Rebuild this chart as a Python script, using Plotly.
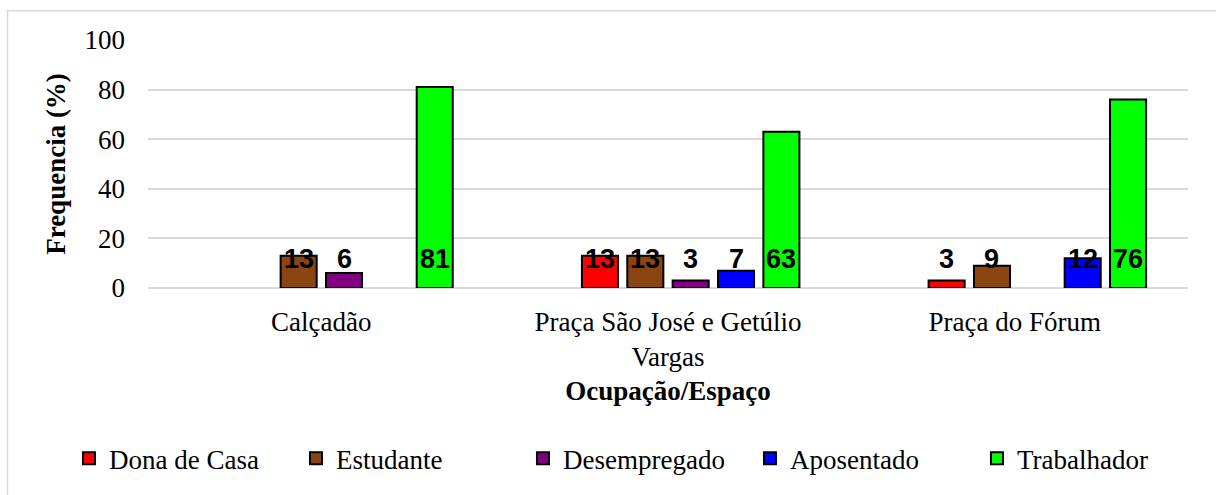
import plotly.graph_objects as go

# Survey of occupation by public space (percentages)
categories = ["Calçadão", "Praça São José e Getúlio<br>Vargas", "Praça do Fórum"]

series_names = ["Dona de Casa", "Estudante", "Desempregado", "Aposentado", "Trabalhador"]
dona_de_casa = [None, 13, 3]
estudante = [13, 13, 9]
desempregado = [6, 3, None]
aposentado = [None, 7, 12]
trabalhador = [81, 63, 76]
# blank leading series in the workbook: keeps an empty slot in every group
blank_series = [0, 0, 0]

series_values = [dona_de_casa, estudante, desempregado, aposentado, trabalhador]
series_colors = ["#FF0000", "#8B4513", "#800080", "#0000FF", "#00FF00"]

y_ticks = [0, 20, 40, 60, 80, 100]
label_height = 12  # data labels sit at a common height near the base

W, H = 1216, 495
M_L, M_R, M_T, M_B = 148, 28, 40, 205
BARGAP, BARGROUPGAP = 0.215, 0.205

serif = "Liberation Serif, Times New Roman, serif"
sans = "Liberation Sans, Arial, sans-serif"

fig = go.Figure()

fig.add_trace(go.Bar(
    x=categories, y=blank_series, showlegend=False, hoverinfo="skip",
    marker=dict(color="rgba(0,0,0,0)", line=dict(width=0)),
))

for name, vals, col in zip(series_names, series_values, series_colors):
    fig.add_trace(go.Bar(
        x=categories, y=vals, name=name,
        marker=dict(color=col, line=dict(color="#000000", width=2)),
    ))

# value labels, shifted into each series' slot within the group
plot_w = W - M_L - M_R
cat_w = plot_w / len(categories)
n_slots = len(series_names) + 1
slot_w = cat_w * (1 - BARGAP) / n_slots
annotations = []
for k, vals in enumerate(series_values):
    slot = k + 1
    for cat, v in zip(categories, vals):
        if v is None:
            continue
        annotations.append(dict(
            x=cat, y=label_height, xref="x", yref="y",
            text=f"<b>{v}</b>", showarrow=False,
            xshift=(slot - (n_slots - 1) / 2) * slot_w,
            yshift=-1,
            yanchor="middle",
            font=dict(family=sans, size=27, color="#000000"),
        ))

fig.update_layout(
    width=W, height=H,
    margin=dict(l=M_L, r=M_R, t=M_T, b=M_B),
    paper_bgcolor="#FFFFFF", plot_bgcolor="#FFFFFF",
    barmode="group", bargap=BARGAP, bargroupgap=BARGROUPGAP,
    font=dict(family=serif, size=27, color="#000000"),
    annotations=annotations,
    legend=dict(
        orientation="h", x=-0.076, xanchor="left", y=-0.688, yanchor="middle",
        font=dict(family=serif, size=27, color="#000000"),
        entrywidth=182, entrywidthmode="pixels",
        bgcolor="rgba(0,0,0,0)",
    ),
    shapes=[dict(
        type="rect", xref="paper", yref="paper",
        x0=(7.5 - M_L) / plot_w, x1=1.2,
        y0=-1.0, y1=(H - M_B - 10.5) / (H - M_T - M_B),
        line=dict(color="#D9D9D9", width=1.5), fillcolor="rgba(0,0,0,0)",
        layer="below",
    )],
)

fig.update_xaxes(
    type="category",
    showgrid=False, showline=False, ticks="", ticklabelstandoff=15,
    tickfont=dict(family=serif, size=27),
    title=dict(text="<b>Ocupação/Espaço</b>", font=dict(family=serif, size=27), standoff=10),
)
fig.update_yaxes(
    range=[0, 100], tickvals=y_ticks,
    showgrid=True, gridcolor="#D9D9D9", gridwidth=1.5,
    zeroline=True, zerolinecolor="#D9D9D9", zerolinewidth=1.5,
    showline=False, ticks="", ticklabelstandoff=22,
    tickfont=dict(family=serif, size=27),
    title=dict(text="<b>Frequencia (%)</b>", font=dict(family=serif, size=27), standoff=11),
)

fig.write_html("out.html")
